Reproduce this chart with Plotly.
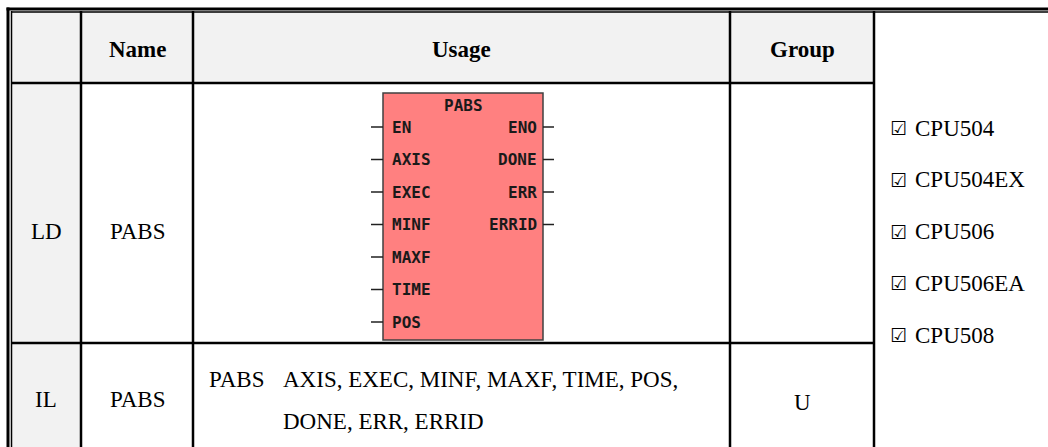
import plotly.graph_objects as go

# ---- data ----
header_labels = ["", "Name", "Usage", "Group"]
row_labels = ["LD", "IL"]
row_names = ["PABS", "PABS"]
block_title = "PABS"
input_pins = ["EN", "AXIS", "EXEC", "MINF", "MAXF", "TIME", "POS"]
output_pins = ["ENO", "DONE", "ERR", "ERRID"]
il_instr = "PABS"
il_line1 = "AXIS, EXEC, MINF, MAXF, TIME, POS,"
il_line2 = "DONE, ERR, ERRID"
il_group = "U"
cpu_list = ["CPU504", "CPU504EX", "CPU506", "CPU506EA", "CPU508"]

# ---- geometry (pixels) ----
W, H = 1048, 447
col_x = [11, 81, 193, 730, 874]
row_y = [11, 83, 343, 470]
GRAY = "#F2F2F2"
SERIF = "Liberation Serif, Times New Roman, serif"
MONO = "DejaVu Sans Mono, Liberation Mono, monospace"
FS = 23

fig = go.Figure()
shapes = []
ann = []

def rect(x0, y0, x1, y1, fill, line_color=None, lw=0, layer="below"):
    shapes.append(dict(type="rect", xref="x", yref="y", x0=x0, y0=y0, x1=x1, y1=y1,
                       fillcolor=fill, line=dict(width=lw, color=line_color or fill), layer=layer))

def line(x0, y0, x1, y1, w=2, color="black"):
    shapes.append(dict(type="line", xref="x", yref="y", x0=x0, y0=y0, x1=x1, y1=y1,
                       line=dict(width=w, color=color)))

def text(x, y, s, size=FS, bold=False, xanchor="center", font=SERIF, color="black"):
    ann.append(dict(x=x, y=y, xref="x", yref="y", text=f"<b>{s}</b>" if bold else s,
                    showarrow=False, xanchor=xanchor, yanchor="middle",
                    font=dict(family=font, size=size, color=color)))

# backgrounds
rect(col_x[0], row_y[0], col_x[1], H + 20, GRAY)
rect(col_x[1], row_y[0], col_x[4], row_y[1], GRAY)

# grid lines
for x in col_x[1:]:
    line(x, row_y[0], x, H + 20, 2.5)
line(col_x[0], row_y[1], col_x[4], row_y[1], 2.5)
line(col_x[0], row_y[2], col_x[4], row_y[2], 2.5)
# outer double border
line(6.5, 9, W + 10, 9, 3)
line(11, 12, W + 10, 12, 1.5)
line(8, 7.5, 8, H + 20, 3)
line(11.5, 11, 11.5, H + 20, 1.5)

# header text
for i, lab in enumerate(header_labels):
    if lab:
        text((col_x[i] + col_x[i + 1]) / 2, 49, lab, bold=True)

# row labels
ld_y, il_y = 231, 399
for lab, nm, yy in zip(row_labels, row_names, [ld_y, il_y]):
    text((col_x[0] + col_x[1]) / 2, yy, lab)
    text((col_x[1] + col_x[2]) / 2, yy, nm)

# function block
bx0, bx1, by0, by1 = 383, 543, 93, 340
rect(bx0, by0, bx1, by1, "#FF8080", "#404040", 1.5, layer="above")
text((bx0 + bx1) / 2, 105, block_title, size=16, font=MONO, bold=True, color="#1a1a1a")
pin_y0, pin_dy = 127, 32.5
for i, p in enumerate(input_pins):
    yy = pin_y0 + i * pin_dy
    line(371, yy, bx0, yy, 1.5, "#202020")
    text(bx0 + 7, yy, p, size=16, font=MONO, bold=True, xanchor="left", color="#1a1a1a")
for i, p in enumerate(output_pins):
    yy = pin_y0 + i * pin_dy
    line(bx1, yy, 554, yy, 1.5, "#202020")
    text(bx1 - 4, yy, p, size=16, font=MONO, bold=True, xanchor="right", color="#1a1a1a")

# IL usage text
text(207, 379, il_instr, xanchor="left")
text(281, 379, il_line1, xanchor="left")
text(281, 421, il_line2, xanchor="left")
text((col_x[3] + col_x[4]) / 2, 402, il_group)

# CPU list
cpu_y0, cpu_dy = 128, 51.8
for i, c in enumerate(cpu_list):
    yy = cpu_y0 + i * cpu_dy
    ann.append(dict(x=888, y=yy, xref="x", yref="y", showarrow=False, xanchor="left",
                    yanchor="middle", text="☑",
                    font=dict(family="DejaVu Sans", size=19, color="black")))
    text(913, yy, c, xanchor="left")

fig.update_layout(
    width=W, height=H, margin=dict(l=0, r=0, t=0, b=0),
    paper_bgcolor="white", plot_bgcolor="white",
    xaxis=dict(range=[0, W], visible=False, fixedrange=True),
    yaxis=dict(range=[H, 0], visible=False, fixedrange=True),
    shapes=shapes, annotations=ann, showlegend=False,
)
fig.write_html("out.html", config={"displayModeBar": False},
               post_script="document.body.style.margin='0';document.body.style.overflow='hidden';")
